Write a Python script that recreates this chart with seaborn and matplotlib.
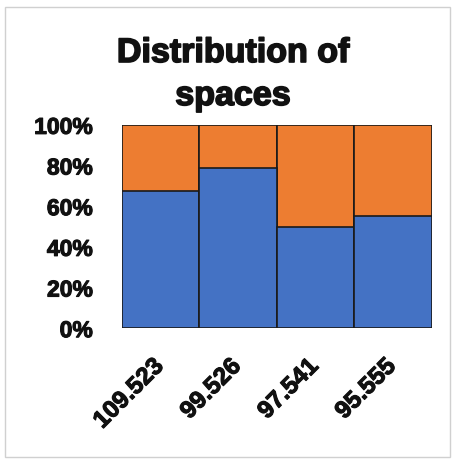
import matplotlib
matplotlib.use("Agg")

import matplotlib.pyplot as plt
import matplotlib.patches as mpatches
import matplotlib.patheffects as pe
import matplotlib.transforms as mtransforms
from matplotlib.ticker import FuncFormatter
import numpy as np
import pandas as pd
import seaborn as sns

# ─── DATA ────────────────────────────────────────────────────────
categories = ["109.523", "99.526", "97.541", "95.555"]
share_blue = [67.5, 79, 50, 55]          # lower segment (%)
share_total = [100, 100, 100, 100]       # full stack (%)

BLUE   = "#4472C4"
ORANGE = "#ED7D31"
EDGE   = "#1a1a1a"
TXT    = "#111111"

sns.set_theme(style="white")
plt.rcParams["font.family"] = ["Liberation Sans", "DejaVu Sans"]

# fake "Arial Black" weight with a thin stroke
HEAVY = [pe.withStroke(linewidth=0.8, foreground=TXT)]

df = pd.DataFrame({"cat": categories, "blue": share_blue, "total": share_total})

fig = plt.figure(figsize=(4.55, 4.59), dpi=100, facecolor="white")
ax = fig.add_axes([0.268, 0.285, 0.681, 0.443])

# orange = full height, blue drawn over it
sns.barplot(data=df, x="cat", y="total", color=ORANGE, saturation=1, width=1.0,
            edgecolor=EDGE, linewidth=1.2, ax=ax, order=categories)
sns.barplot(data=df, x="cat", y="blue", color=BLUE, saturation=1, width=1.0,
            edgecolor=EDGE, linewidth=1.2, ax=ax, order=categories)

ax.set_ylim(0, 100)
ax.set_yticks(np.arange(0, 101, 20))
ax.yaxis.set_major_formatter(FuncFormatter(lambda v, _: f"{int(v)}%"))
ax.set_xlabel("")
ax.set_ylabel("")
for s in ax.spines.values():
    s.set_visible(False)
ax.tick_params(axis="both", length=0)
ax.tick_params(axis="y", pad=21)
ax.tick_params(axis="x", pad=19)
for lbl in ax.get_yticklabels():
    lbl.set_fontsize(16.5)
for lbl in ax.get_xticklabels():
    lbl.set_fontsize(17.5)
for lbl in ax.get_yticklabels() + ax.get_xticklabels():
    lbl.set_fontweight("bold")
    lbl.set_color(TXT)
    lbl.set_path_effects(HEAVY)
shift = mtransforms.ScaledTranslation(-9 / 100, 0, fig.dpi_scale_trans)
for lbl in ax.get_xticklabels():
    lbl.set_rotation(45)
    lbl.set_ha("right")
    lbl.set_rotation_mode("anchor")
    lbl.set_transform(lbl.get_transform() + shift)

fig.text(0.512, 1 - 38 / 459, "Distribution of\nspaces", ha="center", va="top",
         fontsize=24.5, fontweight="bold", color=TXT, linespacing=1.5,
         path_effects=[pe.withStroke(linewidth=1.2, foreground=TXT)])

# light frame around the whole chart
fig.patches.append(mpatches.Rectangle((0.011, 0.004), 0.978, 0.981, transform=fig.transFigure,
                                      fill=False, edgecolor="#d0d0d0", linewidth=1))

fig.savefig("out.png", dpi=100, facecolor="white")
